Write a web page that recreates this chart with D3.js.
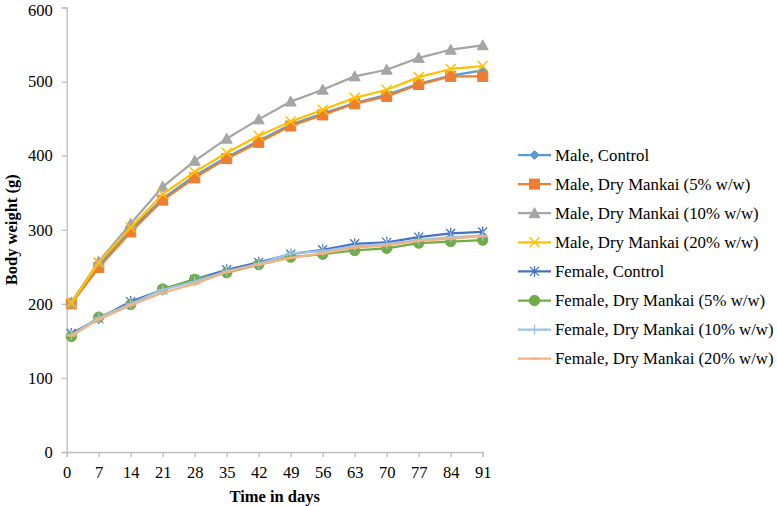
<!DOCTYPE html>
<html><head><meta charset="utf-8">
<script src="https://cdn.jsdelivr.net/npm/d3@7"></script>
<style>
html,body{margin:0;padding:0;background:#fff;}
text{font-family:"Liberation Serif","Times New Roman",serif;fill:#000;}
</style></head>
<body><svg id="c" width="777" height="506"></svg>
<script>
const days = [1, 7, 14, 21, 28, 35, 42, 49, 56, 63, 70, 77, 84, 91];
const xTicks = [0, 7, 14, 21, 28, 35, 42, 49, 56, 63, 70, 77, 84, 91];
const yTicks = [0, 100, 200, 300, 400, 500, 600];
const seriesNames = ["Male, Control", "Male, Dry Mankai (5% w/w)", "Male, Dry Mankai (10% w/w)", "Male, Dry Mankai (20% w/w)",
  "Female, Control", "Female, Dry Mankai (5% w/w)", "Female, Dry Mankai (10% w/w)", "Female, Dry Mankai (20% w/w)"];
const maleControl   = [200, 252, 300, 342, 373, 398, 420, 442, 457, 471, 482, 497, 508, 515];
const maleDry5      = [200, 249, 297, 340, 370, 396, 418, 440, 455, 470, 480, 496, 507, 507];
const maleDry10     = [202, 257, 308, 358, 393, 423, 449, 473, 489, 507, 516, 532, 543, 549];
const maleDry20     = [201, 256, 303, 348, 378, 404, 427, 446, 462, 478, 489, 506, 517, 521];
const femaleControl = [160, 180, 203, 219, 233, 246, 256, 267, 273, 281, 283, 290, 295, 297];
const femaleDry5    = [156, 182, 199, 220, 233, 242, 253, 263, 267, 272, 275, 282, 284, 286];
const femaleDry10   = [158, 181, 200, 219, 230, 244, 254, 268, 271, 278, 281, 286, 290, 292];
const femaleDry20   = [157, 179, 198, 215, 227, 243, 253, 262, 268, 276, 279, 285, 288, 291];

const allValues = [maleControl, maleDry5, maleDry10, maleDry20, femaleControl, femaleDry5, femaleDry10, femaleDry20];
const colors = ["#5B9BD5", "#ED7D31", "#A5A5A5", "#FFC000", "#4472C4", "#70AD47", "#9DC3E6", "#F4B183"];
const markers = ["diamond", "square", "triangle", "x", "asterisk", "circle", "plus", "dash"];

const svg = d3.select("#c");
const x = d3.scaleLinear().domain([0, 91]).range([66.7, 482.7]);
const y = d3.scaleLinear().domain([0, 600]).range([452, 7.5]);
const axisColor = "#BFBFBF";

// Y axis
const gy = svg.append("g").attr("transform", `translate(${x(0)},0)`)
  .call(d3.axisLeft(y).tickValues(yTicks).tickSize(5).tickPadding(9).tickFormat(d3.format("d")));
gy.select(".domain").attr("stroke", axisColor).attr("stroke-width", 1.3);
gy.selectAll(".tick line").attr("stroke", axisColor).attr("stroke-width", 1.3);
gy.selectAll(".tick text").style("font-size", "16.5px").style("font-family", "Liberation Serif").attr("fill", "#000")
  .filter(d => d === 600).attr("y", 2.5);

// X axis
const gx = svg.append("g").attr("transform", `translate(0,${y(0)})`)
  .call(d3.axisBottom(x).tickValues(xTicks).tickSize(5).tickPadding(9).tickFormat(d3.format("d")));
gx.select(".domain").attr("stroke", axisColor).attr("stroke-width", 1.3);
gx.selectAll(".tick line").attr("stroke", axisColor).attr("stroke-width", 1.3);
gx.selectAll(".tick text").style("font-size", "16.5px").style("font-family", "Liberation Serif").attr("fill", "#000");

// Titles
svg.append("text").attr("x", (x(0) + x(91)) / 2).attr("y", 502).attr("text-anchor", "middle")
  .style("font-size", "16.5px").style("font-weight", "bold").text("Time in days");
svg.append("text").attr("transform", `translate(17,${(y(0) + y(600)) / 2}) rotate(-90)`).attr("text-anchor", "middle")
  .style("font-size", "16.5px").style("font-weight", "bold").text("Body weight (g)");

function drawMarker(g, type, cx, cy, color) {
  switch (type) {
    case "diamond":
      g.append("path").attr("d", `M${cx},${cy-4.5}L${cx+4.5},${cy}L${cx},${cy+4.5}L${cx-4.5},${cy}Z`).attr("fill", color).attr("stroke", color); break;
    case "square":
      g.append("rect").attr("x", cx-5).attr("y", cy-5).attr("width", 10).attr("height", 10).attr("fill", color).attr("stroke", color); break;
    case "triangle":
      g.append("path").attr("d", `M${cx},${cy-5.5}L${cx+5.5},${cy+4.5}L${cx-5.5},${cy+4.5}Z`).attr("fill", color).attr("stroke", color); break;
    case "x":
      g.append("path").attr("d", `M${cx-5},${cy-5}L${cx+5},${cy+5}M${cx-5},${cy+5}L${cx+5},${cy-5}`).attr("stroke", color).attr("stroke-width", 1.5).attr("fill", "none"); break;
    case "asterisk":
      g.append("path").attr("d", `M${cx-4.5},${cy-4.5}L${cx+4.5},${cy+4.5}M${cx-4.5},${cy+4.5}L${cx+4.5},${cy-4.5}M${cx},${cy-5.5}L${cx},${cy+5.5}`).attr("stroke", color).attr("stroke-width", 1.3).attr("fill", "none"); break;
    case "circle":
      g.append("circle").attr("cx", cx).attr("cy", cy).attr("r", 5.2).attr("fill", color).attr("stroke", color); break;
    case "plus":
      g.append("path").attr("d", `M${cx-5},${cy}L${cx+5},${cy}M${cx},${cy-5}L${cx},${cy+5}`).attr("stroke", color).attr("stroke-width", 1.3).attr("fill", "none"); break;
    case "dash":
      g.append("path").attr("d", `M${cx-4},${cy}L${cx+4},${cy}`).attr("stroke", color).attr("stroke-width", 2).attr("fill", "none"); break;
  }
}

const line = d3.line().x((d, i) => x(days[i])).y(d => y(d));
allValues.forEach((vals, si) => {
  const g = svg.append("g");
  g.append("path").datum(vals).attr("d", line).attr("fill", "none").attr("stroke", colors[si]).attr("stroke-width", 2.25).attr("stroke-linejoin", "round");
  vals.forEach((v, i) => drawMarker(g, markers[si], x(days[i]), y(v), colors[si]));
});

// Legend
const legendTop = 155, legendStep = 29.1;
seriesNames.forEach((name, i) => {
  const ly = legendTop + i * legendStep;
  const g = svg.append("g");
  g.append("line").attr("x1", 518).attr("x2", 551).attr("y1", ly).attr("y2", ly).attr("stroke", colors[i]).attr("stroke-width", 2.25);
  drawMarker(g, markers[i], 534.5, ly, colors[i]);
  g.append("text").attr("x", 555).attr("y", ly + 5.5).style("font-size", "16.8px").text(name);
});
</script></body></html>
